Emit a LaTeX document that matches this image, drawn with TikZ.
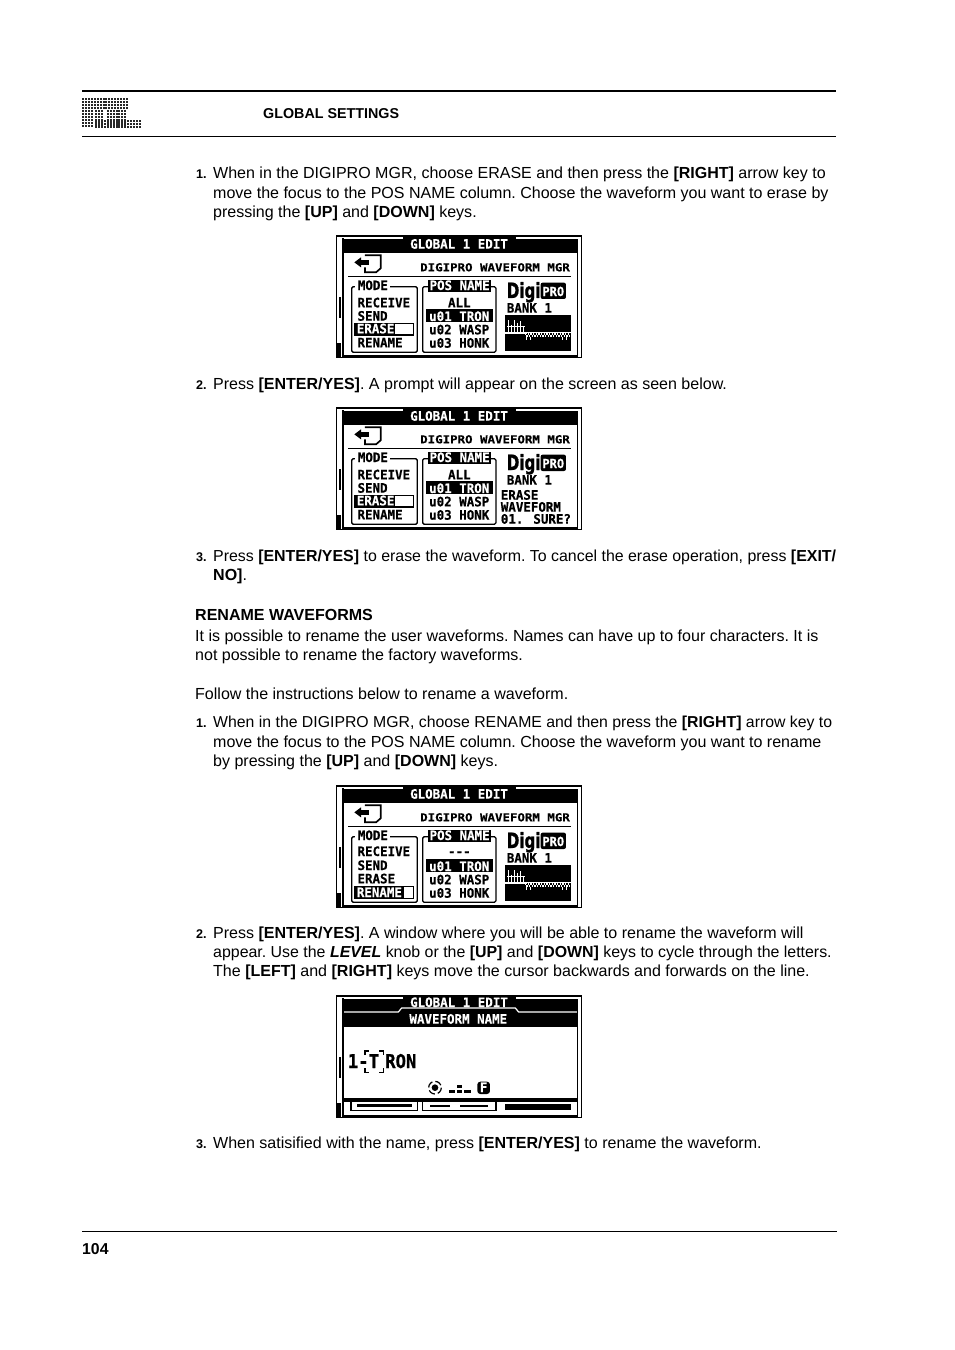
\documentclass[tikz,border=0pt]{standalone}
\usepackage{fontspec}
\setmainfont{Liberation Sans}
\newfontfamily\scrsmall[FakeStretch=1.13,BoldFeatures={FakeBold=0.4}]{DejaVu Sans Mono}
\newfontfamily\scrfont[FakeStretch=0.96,BoldFeatures={FakeBold=0.4}]{DejaVu Sans Mono}
\newfontfamily\scrbig[FakeStretch=0.91,BoldFeatures={FakeBold=0.8}]{DejaVu Sans Mono}
\newfontfamily\digifont[FakeStretch=0.72,BoldFeatures={FakeBold=0.8}]{DejaVu Sans}
\newcounter{tn}
\newcommand{\bodyline}[3]{\stepcounter{tn}\node[bodytext] (b\thetn) at (#1,#2) {#3};}
\newcommand{\numline}[2]{\stepcounter{tn}\node[numtext] (b\thetn) at (196,#1) {#2};}
\newcommand{\st}[4][black]{\stepcounter{tn}\node[scrtext,text=#1] (s\thetn) at (#2,#3) {#4};}
\newcommand{\stc}[4][black]{\stepcounter{tn}\node[scrtext,anchor=base,text=#1] (s\thetn) at (#2,#3) {#4};}
\newcommand{\frameparts}{%
  \fill[black] (18,15) rectangle (756,20);
  \fill[black] (18,15) rectangle (21,385);
  \fill[black] (752,15) rectangle (756,385);
  \fill[black] (18,380) rectangle (756,385);
  \fill[black] (37,25) rectangle (42,380);
  \fill[black] (741,27) rectangle (745,380);
  \fill[black] (28,200) rectangle (33,265);
  \fill[black] (21,340) rectangle (33,385);
  \fill[black] (42,374) rectangle (745,380);
  \fill[black] (220,15) rectangle (558,27);
}
\newcommand{\dgheader}{%
  \fill[black] (42,27) rectangle (741,70);
  \stc[white]{387}{56}{GLOBAL 1 EDIT}
}
\newcommand{\dgtop}{%
  \draw[line width=1.7pt] (105,76) -- (152,76) -- (152,115) -- (138,127) -- (105,127) -- (105,112);
  \fill[white] (100,84) rectangle (112,110);
  \fill[black] (92,89) rectangle (118,106);
  \fill[black] (73,97) -- (93,82) -- (93,112) -- cycle;
  \stepcounter{tn}\node[scrtext,font=\fontsize{11}{12}\selectfont\scrsmall\bfseries] (h\thetn) at (270,124) {DIGIPRO WAVEFORM MGR};
  \draw[line width=1.6pt] (55,140) -- (722,140);
  \draw[line width=1.3pt,rounded corners=1.5pt] (65,170) rectangle (262,367);
  \fill[white] (75,150) rectangle (180,185);
  \st{83}{180}{MODE}
  \draw[line width=1.3pt,rounded corners=1.5pt] (278,170) rectangle (498,367);
  \fill[black] (295,150) rectangle (483,187);
  \stc[white]{389}{180}{POS NAME}
  \fill[black] (288,238) rectangle (490,277);
  \st[white]{297}{273}{u01 TRON}
  \st{297}{313}{u02 WASP}
  \st{297}{353}{u03 HONK}
  \stepcounter{tn}\node[digitext] (d\thetn) at (530,204) {Digi};
  \fill[black,rounded corners=2pt] (632,158) rectangle (708,207);
  \stepcounter{tn}\node[protext] (p\thetn) at (670,198) {PRO};
}
\newcommand{\wavepart}{%
  \fill[black] (525,254) rectangle (722,362);
  \fill[white] (525,306) rectangle (590,313);
  \fill[white] (590,306) rectangle (722,309);
  \foreach \x/\h in {533/270,542/285,551/270,560/278,569/274,578/290}{\fill[white] (\x,\h) rectangle (\x+3,306);}
  \fill[white] (530,288) rectangle (585,291);
  \foreach \x in {585,593,...,713}{\fill[white] (\x,309) rectangle ++(4,6);\fill[white] (\x+4,315) rectangle ++(4,6);}
  \foreach \x in {589,601,697,709}{\fill[white] (\x,321) rectangle ++(3,8);}
  \st{530}{248}{BANK 1}
}
\newcommand{\selrow}[4]{% y0, y1, black end, text
  \fill[white] (75,#1) rectangle (250,#2);
  \draw[line width=1.2pt] (75,#1) rectangle (250,#2);
  \fill[black] (75,#1) rectangle (#3,#2);
  \st[white]{80}{#2-5}{#4}
}
\begin{document}
\begin{tikzpicture}[x=1pt,y=-1pt,
  bodytext/.style={anchor=base west,inner sep=0pt,font=\fontsize{16.02}{19}\selectfont\frenchspacing},
  numtext/.style={anchor=base west,inner sep=0pt,font=\fontsize{12.6}{15}\selectfont\bfseries},
  scrtext/.style={anchor=base west,inner sep=0pt,font=\fontsize{13}{14}\selectfont\scrfont\bfseries},
  digitext/.style={anchor=base west,inner sep=0pt,font=\fontsize{21}{22}\selectfont\digifont\bfseries},
  protext/.style={anchor=base,inner sep=0pt,text=white,font=\fontsize{12.5}{14}\selectfont\scrfont\bfseries},
  bigscr/.style={anchor=base west,inner sep=0pt,font=\fontsize{19}{22}\selectfont\scrbig\bfseries},
  screen/.style={shift={(330,#1)},x=0.3333pt,y=-0.3333pt}]
\useasboundingbox (0,0) rectangle (954,1350);
\fill[white] (0,0) rectangle (954,1350);
% logo
\foreach \a/\b/\c/\d in {82/98/103/109,105/98/126/109,82/110/91/126,95/110/103/126,107/110/116/126,95/120/116/126,118/110/125/126,118/120/140/126}{
  \pgfmathtruncatemacro{\nx}{(\c-\a)/3}
  \pgfmathtruncatemacro{\ny}{(\d-\b)/3}
  \foreach \i in {0,...,\nx}{\foreach \j in {0,...,\ny}{
    \fill[black!85] (\a+\i*3,\b+\j*3) rectangle ++(2.3,2.3);}}
}
\coordinate (ra) at (82,91); \coordinate (rb) at (836,91);
\coordinate (rc) at (82,136.5); \coordinate (rd) at (836,136.5);
\coordinate (re) at (82,1231.5); \coordinate (rf) at (837,1231.5);
\draw[line width=1.7pt] (ra) -- (rb);
\draw[line width=0.8pt] (rc) -- (rd);
\draw[line width=0.8pt] (re) -- (rf);
\node[anchor=base west,inner sep=0pt,font=\fontsize{14.3}{16}\selectfont\bfseries] (head) at (263,118) {GLOBAL SETTINGS};
\node[anchor=base west,inner sep=0pt,font=\fontsize{15.8}{18}\selectfont\bfseries] (page) at (82,1254) {104};
% text
\numline{178}{1.}
\bodyline{213}{178}{When in the DIGIPRO MGR, choose ERASE and then press the \textbf{[RIGHT]} arrow key to}
\bodyline{213}{198}{move the focus to the POS NAME column. Choose the waveform you want to erase by}
\bodyline{213}{217}{pressing the \textbf{[UP]} and \textbf{[DOWN]} keys.}
\numline{389}{2.}
\bodyline{213}{389}{Press \textbf{[ENTER/YES]}. A prompt will appear on the screen as seen below.}
\numline{561}{3.}
\bodyline{213}{561}{\fontsize{15.92}{19}\selectfont Press \textbf{[ENTER/YES]} to erase the waveform. To cancel the erase operation, press \textbf{[EXIT/}}
\bodyline{213}{580}{\textbf{NO]}.}
\bodyline{195}{620}{\textbf{RENAME WAVEFORMS}}
\bodyline{195}{641}{It is possible to rename the user waveforms. Names can have up to four characters. It is}
\bodyline{195}{660}{not possible to rename the factory waveforms.}
\bodyline{195}{699}{Follow the instructions below to rename a waveform.}
\numline{727}{1.}
\bodyline{213}{727}{\fontsize{15.82}{19}\selectfont When in the DIGIPRO MGR, choose RENAME and then press the \textbf{[RIGHT]} arrow key to}
\bodyline{213}{747}{move the focus to the POS NAME column. Choose the waveform you want to rename}
\bodyline{213}{766}{by pressing the \textbf{[UP]} and \textbf{[DOWN]} keys.}
\numline{938}{2.}
\bodyline{213}{938}{Press \textbf{[ENTER/YES]}. A window where you will be able to rename the waveform will}
\bodyline{213}{957}{\fontsize{15.92}{19}\selectfont appear. Use the \textbf{\textit{LEVEL}} knob or the \textbf{[UP]} and \textbf{[DOWN]} keys to cycle through the letters.}
\bodyline{213}{976}{The \textbf{[LEFT]} and \textbf{[RIGHT]} keys move the cursor backwards and forwards on the line.}
\numline{1148}{3.}
\bodyline{213}{1148}{When satisified with the name, press \textbf{[ENTER/YES]} to rename the waveform.}
% screen 1
\begin{scope}[screen=230]
\frameparts\dgheader\dgtop\wavepart
\st{82}{232}{RECEIVE}\st{82}{272}{SEND}\st{82}{352}{RENAME}
\selrow{280}{315}{195}{ERASE}
\stc{388}{232}{ALL}
\end{scope}
% screen 2
\begin{scope}[screen=402]
\frameparts\dgheader\dgtop
\st{530}{248}{BANK 1}
\st{82}{232}{RECEIVE}\st{82}{272}{SEND}\st{82}{352}{RENAME}
\selrow{280}{315}{195}{ERASE}
\stc{388}{232}{ALL}
\st{512}{293}{ERASE}\st{512}{329}{WAVEFORM}\st{512}{365}{01. SURE?}
\end{scope}
% screen 3
\begin{scope}[screen=780]
\frameparts\dgheader\dgtop\wavepart
\st{82}{228}{RECEIVE}\st{82}{270}{SEND}\st{82}{310}{ERASE}
\selrow{320}{356}{222}{RENAME}
\stc{388}{228}{---}
\end{scope}
% screen 4
\begin{scope}[screen=990]
\frameparts
\fill[black] (42,27) rectangle (741,110);
\stc[white]{387}{51}{GLOBAL 1 EDIT}
\draw[white,line width=1.2pt] (42,66) -- (205,66) -- (215,54) -- (556,54) -- (566,66) -- (741,66);
\stc[white]{385}{101}{WAVEFORM NAME}
\fill[white] (47,110) rectangle (733,325);
\fill[black] (42,325) rectangle (741,335);
\fill[white] (42,335) rectangle (741,374);
\draw[line width=1.2pt] (63,337) -- (63,362) -- (262,362) -- (262,337);
\draw[line width=1.2pt] (277,337) -- (277,362) -- (498,362) -- (498,337);
\fill[black] (525,343) rectangle (722,360);
\fill[black] (80,343) rectangle (245,350);
\fill[black] (300,345) rectangle (360,350);
\fill[black] (390,345) rectangle (475,350);
\stepcounter{tn}\node[bigscr] (big\thetn) at (53,234) {1-};
\stepcounter{tn}\node[bigscr,anchor=base] (cur\thetn) at (132,234) {T};
\stepcounter{tn}\node[bigscr] (ron\thetn) at (165,234) {RON};
\draw[line width=1.1pt] (105,195) -- (105,183) -- (117,183) (148,183) -- (160,183) -- (160,195) (105,235) -- (105,248) -- (117,248) (148,248) -- (160,248) -- (160,235);
\fill[black] (315,293) circle (10);
\draw[line width=1.2pt,dash pattern=on 7pt off 3pt] (315,293) circle (19);
\fill[black] (358,300) rectangle (375,308);\fill[black] (380,285) rectangle (395,293);\fill[black] (380,300) rectangle (395,308);\fill[black] (403,300) rectangle (422,308);
\fill[black,rounded corners=3pt] (442,275) rectangle (480,312);
\stc[white]{461}{306}{F}
\end{scope}
\end{tikzpicture}
\end{document}
